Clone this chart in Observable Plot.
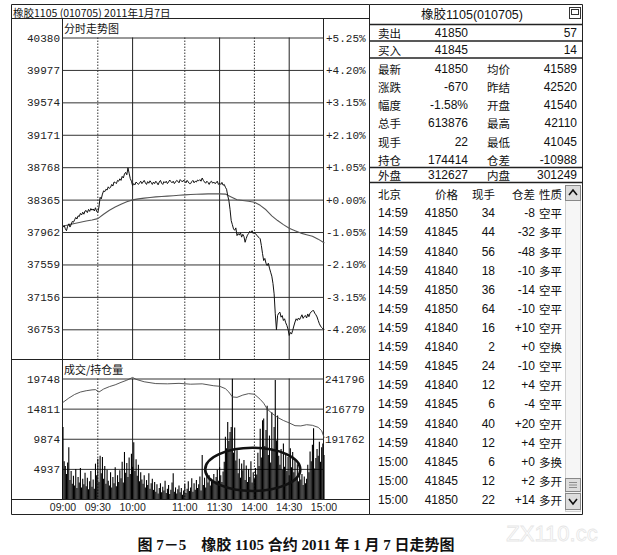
<!DOCTYPE html>
<html><head><meta charset="utf-8">
<script src="https://cdn.jsdelivr.net/npm/d3@7"></script>
<script src="https://cdn.jsdelivr.net/npm/@observablehq/plot@0.6"></script>
<style>
html,body{margin:0;padding:0;background:#fff;}
#wrap{position:relative;width:617px;height:555px;overflow:hidden;background:#fff;}
#wrap > svg{position:absolute;left:0;top:0;overflow:visible;}
</style></head><body><div id="wrap"></div>
<script>
// ---------- DATA ----------
const headerText = "橡胶1105 (010705) 2011年1月7日";
const priceTitle = "分时走势图";
const volTitle = "成交/持仓量";
const baseSettle = 38365;
const priceTicks = [40380, 39977, 39574, 39171, 38768, 38365, 37962, 37559, 37156, 36753];
const volTicks = [19748, 14811, 9874, 4937];
const oiTicks = [241796, 216779, 191762];
const timeTickIdx = [0, 30, 60, 105, 135, 165, 195, 225];
const timeTickLabels = ["09:00", "09:30", "10:00", "11:00", "11:30", "14:00", "14:30", "15:00"];
const solidLines = [60, 135, 195];
const dottedLines = [30, 105, 165];

// per-minute last price (trading minute index 0..225)
const price = [
38030,38050,38010,37985,38040,38070,38030,38060,38100,38090,
38120,38150,38130,38170,38160,38200,38180,38215,38190,38230,
38235,38210,38250,38225,38260,38240,38255,38230,38270,38225,
38210,38280,38400,38380,38440,38480,38470,38500,38490,38530,
38510,38525,38560,38540,38590,38585,38570,38610,38600,38630,
38610,38660,38640,38690,38710,38680,38766,38700,38632,38600,
38545,38570,38555,38590,38575,38560,38580,38600,38570,38590,
38610,38580,38560,38595,38575,38605,38585,38560,38590,38570,
38600,38580,38555,38590,38610,38575,38560,38595,38580,38600,
38570,38590,38615,38595,38580,38600,38570,38590,38610,38600,
38580,38620,38605,38590,38615,38600,38580,38610,38590,38570,
38570,38595,38610,38580,38600,38590,38615,38605,38620,38600,
38640,38610,38590,38575,38600,38585,38560,38590,38600,38575,
38590,38570,38580,38600,38560,38575,38560,38585,38550,38560,
38525,38500,38420,38360,38250,38110,38060,38007,37990,38020,
37924,37950,37930,37960,37905,37940,37912,37841,37890,37930,
37950,37978,37960,37985,37950,37965,37946,37930,37910,37900,
37884,37800,37700,37614,37640,37580,37552,37580,37520,37469,
37420,37330,37200,36952,36753,36931,36960,36972,36910,36930,
36869,36890,36840,36807,36760,36683,36720,36700,36745,36800,
36850,36890,36870,36900,36880,36910,36940,36895,36920,36931,
36900,36950,36916,36960,36975,36990,36993,36960,36940,36913,
36870,36828,36800,36780,36766,36760];

// average price line (read every 5 minutes)
const avgIdx = [0,5,10,15,20,25,30,35,40,45,50,55,60,65,70,75,80,85,90,95,100,105,110,115,120,125,130,135,140,145,150,155,160,165,170,175,180,185,190,195,200,205,210,215,220,225];
const avgPrice = [38040,38060,38075,38090,38105,38118,38135,38190,38240,38280,38315,38345,38368,38380,38390,38398,38405,38410,38415,38420,38425,38430,38435,38438,38440,38442,38443,38443,38440,38405,38370,38360,38350,38338,38300,38245,38170,38111,38060,38015,37985,37955,37935,37915,37880,37835];

// per-minute volume
const volume = [
11800,6200,5400,4100,6000,8500,3100,4600,2500,3800,
2200,4900,1800,3600,2700,5100,1900,3300,2400,4300,
2100,3500,1600,2900,4600,2000,3200,1700,5800,3900,
6600,2800,7100,4200,6900,3300,5400,2500,4800,3000,
2200,4400,1900,3600,2600,5200,2100,3900,2800,4700,
3400,6100,2700,7700,4300,5900,3600,6800,4100,7400,
5300,9300,4600,6500,3800,5600,2900,4400,3200,2500,
3900,1900,3100,2300,4200,1700,2600,3300,1500,2800,
1200,2400,900,1800,2600,1100,2000,1400,3000,1000,
1700,2300,800,1500,2700,4200,1200,1900,900,1600,
2200,1100,1800,700,1400,2500,1000,1700,2900,1300,
1900,3400,1200,2600,1500,3100,1800,2400,3700,1400,
7200,2300,3500,1900,4300,2700,3900,2200,3300,2800,
4100,2500,3600,4800,3000,5200,3900,2800,4500,6100,
10200,8300,12600,9500,11000,11800,19700,7600,11700,6300,
8000,4200,6600,3500,5800,4700,6400,3100,5500,2800,
4900,3600,6200,2700,4400,3300,5100,4000,7600,5400,
11500,6800,12900,13200,8700,11300,15300,7200,10400,6000,
14200,8100,11800,19500,9600,13700,7100,5600,8200,4800,
9100,5300,7400,4600,6900,3900,8300,5200,7700,4400,
6300,3500,5700,2900,4900,3200,4100,2300,3700,2600,
3300,5600,4400,7800,6200,8900,11600,5000,6700,8200,
7100,9400,6100,8500,9100,7200];

// open interest line
const oiIdx = [0,5,10,15,20,25,28,31,35,40,45,50,55,60,63,70,80,90,100,110,120,130,135,140,143,146,150,155,160,165,170,173,176,180,185,190,195,200,205,210,215,220,223,225];
const oiVal = [222500,226000,229000,231000,232100,232800,233000,231000,233500,235500,237000,239000,240800,243100,241500,239500,238000,237800,238200,237500,237800,236200,235800,233800,231000,227000,226600,228500,229700,229200,225000,221800,217000,213500,210000,207500,205500,203200,203000,204000,203500,201800,199000,193600];

// right panel
const panelTitle = "橡胶1105(010705)";
const bidAskLabels = ["卖出", "买入"];
const bidAskPrices = ["41850", "41845"];
const bidAskQty = ["57", "14"];
const quoteLabelsL = ["最新", "涨跌", "幅度", "总手", "现手", "持仓"];
const quoteValuesL = ["41850", "-670", "-1.58%", "613876", "22", "174414"];
const quoteLabelsR = ["均价", "昨结", "开盘", "最高", "最低", "仓差"];
const quoteValuesR = ["41589", "42520", "41540", "42110", "41045", "-10988"];
const outerInner = ["外盘", "312627", "内盘", "301249"];
const tradeHeader = ["北京", "价格", "现手", "仓差", "性质"];
const tradeTimes = ["14:59","14:59","14:59","14:59","14:59","14:59","14:59","14:59","14:59","14:59","14:59","14:59","14:59","15:00","15:00","15:00"];
const tradePrices = ["41850","41845","41840","41840","41850","41850","41840","41840","41845","41840","41845","41840","41840","41845","41845","41850"];
const tradeVols = ["34","44","56","18","36","64","16","2","24","12","6","40","12","6","12","22"];
const tradeDiffs = ["-8","-32","-48","-10","-14","-10","+10","+0","-10","+4","-4","+20","+4","+0","+2","+14"];
const tradeTypes = ["空平","多平","多平","多平","空平","空平","空开","空换","空平","空开","空平","空开","空开","多换","多开","多开"];
const caption = "图 7－5　橡胶 1105 合约 2011 年 1 月 7 日走势图";
const watermark = "ZX110.cc";

// ---------- RENDER ----------
const wrap = document.getElementById("wrap");
const NS = "http://www.w3.org/2000/svg";
const monoFont = "'Liberation Mono', 'DejaVu Sans Mono', monospace";
const sansFont = "'Liberation Sans', 'Noto Sans CJK SC', sans-serif";
const cjkFont = "'Noto Sans CJK SC', 'Liberation Sans', sans-serif";

function el(parent, tag, attrs, text) {
  const e = document.createElementNS(NS, tag);
  for (const k in attrs) e.setAttribute(k, attrs[k]);
  if (text != null) e.textContent = text;
  parent.appendChild(e);
  return e;
}

// frame layer
const frame = el(wrap, "svg", {width: 617, height: 555, viewBox: "0 0 617 555"});
const ln = (x1, y1, x2, y2, w = 1, c = "#222") => el(frame, "line", {x1, y1, x2, y2, stroke: c, "stroke-width": w});
ln(11.5, 4.5, 369.5, 4.5);
ln(11.5, 4.5, 11.5, 514.5);
ln(11.5, 514.5, 369.5, 514.5);
ln(11.5, 18.5, 369.5, 18.5);
ln(62.5, 18.5, 62.5, 499.5);
ln(323.5, 18.5, 323.5, 499.5);
ln(11.5, 359.5, 369.5, 359.5);
ln(11.5, 499.5, 369.5, 499.5);
el(frame, "text", {x: 13, y: 12, "font-family": cjkFont, "font-size": 10.5, "dominant-baseline": "central", fill: "#111"}, headerText);
el(frame, "text", {x: 64, y: 28, "font-family": cjkFont, "font-size": 11, "dominant-baseline": "central", fill: "#111"}, priceTitle);
el(frame, "text", {x: 64, y: 368.5, "font-family": cjkFont, "font-size": 11, "dominant-baseline": "central", fill: "#111"}, volTitle);

// right panel
ln(369.5, 4.5, 582.5, 4.5);
ln(369.5, 4.5, 369.5, 514.5);
ln(582.5, 4.5, 582.5, 514.5);
ln(369.5, 514.5, 582.5, 514.5);
ln(369.5, 24.5, 582.5, 24.5, 1.5);
ln(369.5, 41, 582.5, 41, 1.5);
ln(369.5, 58, 582.5, 58, 1.5);
ln(369.5, 167.5, 582.5, 167.5, 1.5);
ln(369.5, 182.5, 582.5, 182.5, 1.5);
el(frame, "text", {x: 472, y: 15, "font-family": sansFont, "font-size": 12.5, "text-anchor": "middle", "dominant-baseline": "central", fill: "#111"}, panelTitle);
el(frame, "rect", {x: 569.5, y: 7.5, width: 11, height: 11, fill: "#fff", stroke: "#333"});
el(frame, "rect", {x: 571.5, y: 9.5, width: 7, height: 5, fill: "none", stroke: "#333"});

const txt = (x, y, s, anchor = "start", font = sansFont, size = 12) =>
  el(frame, "text", {x, y, "font-family": font, "font-size": size, "text-anchor": anchor, "dominant-baseline": "central", fill: "#111"}, s);

[32.5, 49.5].forEach((y, i) => {
  txt(378, y, bidAskLabels[i], "start", cjkFont, 11.5);
  txt(468, y, bidAskPrices[i], "end");
  txt(577, y, bidAskQty[i], "end");
});
quoteLabelsL.forEach((s, i) => {
  const y = 68.5 + i * 18.3;
  txt(378, y, s, "start", cjkFont, 11.5);
  txt(468, y, quoteValuesL[i], "end");
  txt(487, y, quoteLabelsR[i], "start", cjkFont, 11.5);
  txt(577, y, quoteValuesR[i], "end");
});
txt(378, 175, outerInner[0], "start", cjkFont, 11.5);
txt(468, 175, outerInner[1], "end");
txt(487, 175, outerInner[2], "start", cjkFont, 11.5);
txt(577, 175, outerInner[3], "end");

txt(378, 194, tradeHeader[0], "start", cjkFont, 11.5);
txt(458, 194, tradeHeader[1], "end", cjkFont, 11.5);
txt(495, 194, tradeHeader[2], "end", cjkFont, 11.5);
txt(535, 194, tradeHeader[3], "end", cjkFont, 11.5);
txt(539, 194, tradeHeader[4], "start", cjkFont, 11.5);
tradeTimes.forEach((t, i) => {
  const y = 213.3 + i * 19.11;
  txt(378, y, t);
  txt(458, y, tradePrices[i], "end");
  txt(495, y, tradeVols[i], "end");
  txt(535, y, tradeDiffs[i], "end");
  txt(539, y, tradeTypes[i], "start", cjkFont, 11.5);
});
// scrollbar
el(frame, "rect", {x: 565.5, y: 185.5, width: 15, height: 326, fill: "#f6f6f6", stroke: "#d0d0d0"});
el(frame, "rect", {x: 565.5, y: 185.5, width: 15, height: 15, fill: "#ddd", stroke: "#888"});
el(frame, "path", {d: "M569,195 L573,190 L577,195", fill: "none", stroke: "#111", "stroke-width": 1.6});
el(frame, "rect", {x: 565.5, y: 478.5, width: 15, height: 13, fill: "#ddd", stroke: "#888"});
[482.5, 485, 487.5].forEach(y => ln(569, y, 577, y, 0.8, "#777"));
el(frame, "rect", {x: 565.5, y: 493.5, width: 15, height: 16, fill: "#ddd", stroke: "#888"});
el(frame, "path", {d: "M569,499 L573,504 L577,499", fill: "none", stroke: "#111", "stroke-width": 1.6});

// caption & watermark
el(frame, "text", {x: 296, y: 545, "font-family": "'Liberation Serif', 'Noto Sans CJK SC', serif", "font-size": 15, "font-weight": "bold", "text-anchor": "middle", "dominant-baseline": "central", fill: "#111"}, caption);
el(frame, "text", {x: 552, y: 533, "font-family": sansFont, "font-size": 22, "text-anchor": "middle", "dominant-baseline": "central", fill: "#fff", stroke: "#e6e6e6", "stroke-width": 0.8}, watermark);

// ---------- PRICE CHART ----------
const priceData = price.map((p, i) => ({i, p}));
const avgData = avgIdx.map((i, k) => ({i, p: avgPrice[k]}));
const pctFmt = d => { const v = (d / baseSettle - 1) * 100; return (v >= 0 ? "+" : "") + v.toFixed(2) + "%"; };
const plain = d => String(d);
const commonStyle = {background: "transparent", overflow: "visible", fontFamily: monoFont, fontSize: "11px", color: "#111"};

const priceChart = Plot.plot({
  width: 370, height: 362,
  marginLeft: 62.5, marginRight: 46.5, marginTop: 37.5, marginBottom: 3,
  style: commonStyle,
  x: {domain: [0, 225], axis: null},
  y: {domain: [36384, 40380]},
  marks: [
    Plot.ruleY(priceTicks, {stroke: "#333", strokeWidth: 1}),
    Plot.ruleX(solidLines, {stroke: "#222", strokeWidth: 1}),
    Plot.ruleX(dottedLines, {stroke: "#333", strokeWidth: 1, strokeDasharray: "1.5,1.5"}),
    Plot.axisY(priceTicks, {anchor: "left", tickSize: 0, tickPadding: 3, tickFormat: plain, label: null, fill: "#222"}),
    Plot.axisY(priceTicks, {anchor: "right", tickSize: 0, tickPadding: 2, tickFormat: pctFmt, label: null, fill: "#222"}),
    Plot.line(avgData, {x: "i", y: "p", stroke: "#555", strokeWidth: 1.1}),
    Plot.line(priceData, {x: "i", y: "p", stroke: "#111", strokeWidth: 1})
  ]
});
wrap.appendChild(priceChart);

// ---------- VOLUME CHART ----------
const volData = volume.map((v, i) => ({i, v}));
const timeLabelMap = new Map(timeTickIdx.map((d, k) => [d, timeTickLabels[k]]));
const volChart = Plot.plot({
  width: 370, height: 520,
  marginLeft: 62.5, marginRight: 46.5, marginTop: 378.5, marginBottom: 21,
  style: commonStyle,
  x: {domain: [0, 225]},
  y: {domain: [0, 19748]},
  marks: [
    Plot.ruleY(volTicks, {stroke: "#333", strokeWidth: 1}),
    Plot.ruleX(solidLines, {stroke: "#222", strokeWidth: 1}),
    Plot.ruleX(dottedLines, {stroke: "#333", strokeWidth: 1, strokeDasharray: "1.5,1.5"}),
    Plot.ruleX(volData, {x: "i", y1: 0, y2: "v", stroke: "#000", strokeWidth: 1.1}),
    Plot.axisY(volTicks, {anchor: "left", tickSize: 0, tickPadding: 3, tickFormat: plain, label: null, fill: "#222"}),
    Plot.axisX(timeTickIdx, {anchor: "bottom", tickSize: 0, tickPadding: 4, tickFormat: d => timeLabelMap.get(d), label: null, fontFamily: sansFont, fontSize: 10.5, fill: "#222"})
  ]
});
wrap.appendChild(volChart);

// circled annotation
{
  const xs = volChart.scale("x"), ys = volChart.scale("y");
  const x1 = xs.apply(123), x2 = xs.apply(205);
  const y1 = ys.apply(8390), y2 = ys.apply(1310);
  el(volChart, "ellipse", {cx: (x1 + x2) / 2, cy: (y1 + y2) / 2, rx: (x2 - x1) / 2, ry: (y2 - y1) / 2, fill: "none", stroke: "#111", "stroke-width": 2.6});
}

// ---------- OPEN INTEREST (right axis) ----------
const oiData = oiIdx.map((i, k) => ({i, v: oiVal[k]}));
const oiChart = Plot.plot({
  width: 370, height: 520,
  marginLeft: 62.5, marginRight: 46.5, marginTop: 378.5, marginBottom: 21,
  style: commonStyle,
  x: {domain: [0, 225], axis: null},
  y: {domain: [142150, 241796]},
  marks: [
    Plot.axisY(oiTicks, {anchor: "right", tickSize: 0, tickPadding: 1, tickFormat: plain, label: null, fill: "#222"}),
    Plot.line(oiData, {x: "i", y: "v", stroke: "#444", strokeWidth: 0.9})
  ]
});
wrap.appendChild(oiChart);
</script></body></html>
